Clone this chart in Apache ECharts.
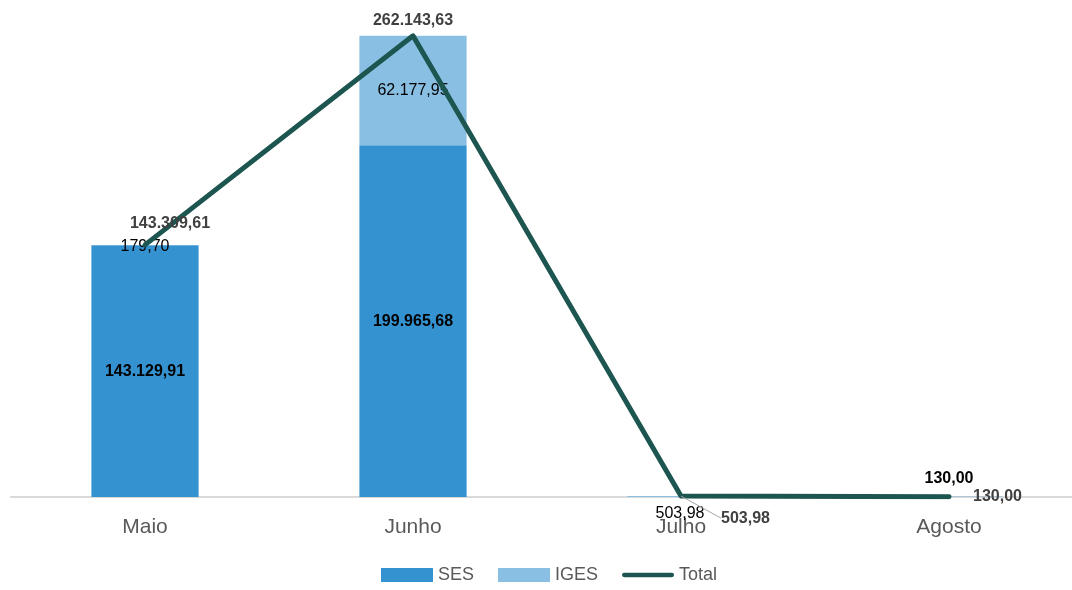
<!DOCTYPE html>
<html>
<head>
<meta charset="utf-8">
<script src="https://cdn.jsdelivr.net/npm/echarts@6/dist/echarts.min.js"></script>
<style>
  html, body { margin: 0; padding: 0; background: #fff; }
  #chart { width: 1072px; height: 590px; }
</style>
</head>
<body>
<div id="chart"></div>
<script>
// data
const months = ['Maio', 'Junho', 'Julho', 'Agosto'];
const ses = [143129.91, 199965.68, 0, 130.00];
const iges = [179.70, 62177.95, 503.98, 0];
const total = [143309.61, 262143.63, 503.98, 130.00];

const FONT = '"Liberation Sans", Arial, sans-serif';
const fmt = v => v.toLocaleString('pt-BR', { minimumFractionDigits: 2, maximumFractionDigits: 2 });

const chart = echarts.init(document.getElementById('chart'), null, { renderer: 'canvas' });

const sesData = ses.map((v, i) => {
  const item = { value: v };
  if (v === 0) item.label = { show: false };
  if (i === 3) item.label = { position: 'top', distance: 10 };
  return item;
});

const igesData = iges.map((v, i) => {
  const item = { value: v };
  if (v === 0) item.label = { show: false };
  if (i === 0) item.label = { offset: [0, 2] };
  if (i === 2) item.label = { offset: [-1, 17] };
  return item;
});

const totalData = total.map((v, i) => {
  const item = { value: v };
  if (i === 2) {
    item.label = { position: 'right', distance: 6 };
    item.labelLine = { show: true };
  }
  if (i === 3) item.label = { position: 'right', distance: 24 };
  return item;
});

// moves of the Total labels (the Julho one gets a leader line)
const totalLabelMove = [
  { dx: 25, dy: -8 },
  { dx: 0, dy: -2 },
  { dx: 34, dy: 22 },
  {}
];

chart.setOption({
  animation: false,
  textStyle: { fontFamily: FONT },
  grid: { left: 11, width: 1072, top: 22, bottom: 93, outerBoundsMode: 'none', containLabel: false },
  legend: {
    bottom: 1,
    left: 376,
    itemWidth: 52,
    itemHeight: 14,
    itemGap: 24,
    textStyle: { color: '#595959', fontSize: 18, fontFamily: FONT },
    data: [
      { name: 'SES', icon: 'rect' },
      { name: 'IGES', icon: 'rect' },
      { name: 'Total', icon: 'path://M2,0 L58,0 A2.5,2.5 0 0 1 58,5 L2,5 A2.5,2.5 0 0 1 2,0 Z' }
    ]
  },
  xAxis: {
    type: 'category',
    data: months,
    axisLine: { lineStyle: { color: '#d9d9d9', width: 2 } },
    axisTick: { show: false },
    axisLabel: { color: '#595959', fontSize: 21, margin: 20, fontFamily: FONT }
  },
  yAxis: {
    type: 'value',
    min: 0,
    max: 270000,
    show: false,
    splitLine: { show: false }
  },
  series: [
    {
      name: 'SES',
      type: 'bar',
      stack: 'mes',
      barWidth: '40%',
      itemStyle: { color: '#3592d0' },
      label: {
        show: true,
        position: 'inside',
        color: '#000',
        fontWeight: 'bold',
        fontSize: 16,
        fontFamily: FONT,
        formatter: p => fmt(p.value)
      },
      data: sesData
    },
    {
      name: 'IGES',
      type: 'bar',
      stack: 'mes',
      barWidth: '40%',
      itemStyle: { color: '#88bfe2' },
      label: {
        show: true,
        position: 'inside',
        color: '#000',
        fontSize: 16,
        fontFamily: FONT,
        formatter: p => fmt(p.value)
      },
      data: igesData
    },
    {
      name: 'Total',
      type: 'line',
      symbol: 'circle',
      symbolSize: 0.1,
      showSymbol: true,
      lineStyle: { color: '#1d5650', width: 5, cap: 'round', join: 'round' },
      itemStyle: { color: '#1d5650' },
      label: {
        show: true,
        position: 'top',
        color: '#404040',
        fontWeight: 'bold',
        fontSize: 16,
        fontFamily: FONT,
        formatter: p => fmt(p.value)
      },
      labelLine: { show: false, lineStyle: { color: '#a6a6a6', width: 1 } },
      labelLayout: p => totalLabelMove[p.dataIndex] || {},
      z: 5,
      data: totalData
    }
  ]
});
</script>
</body>
</html>
